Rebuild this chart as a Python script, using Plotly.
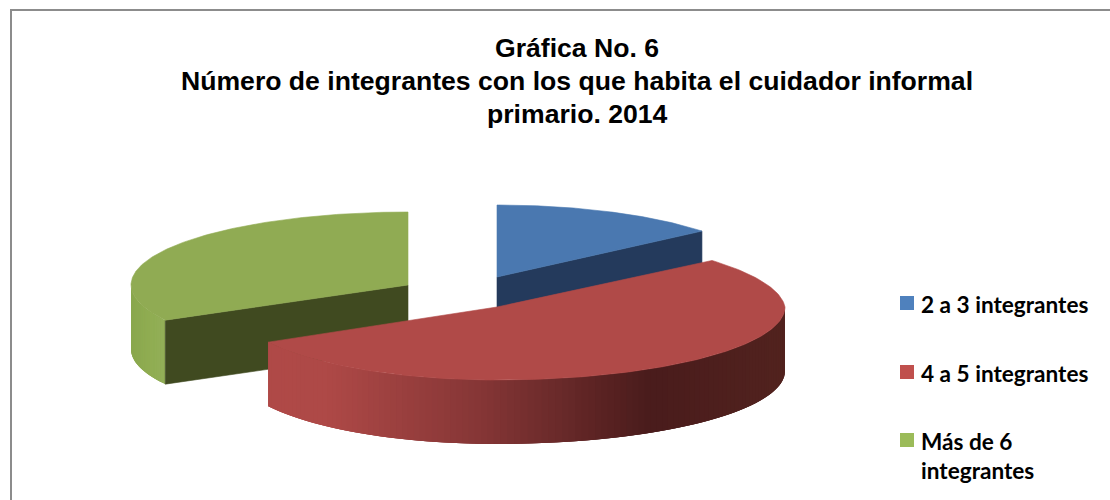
import numpy as np
import plotly.graph_objects as go

# --- data ---
categories = ["2 a 3 integrantes", "4 a 5 integrantes", "Más de 6<br>integrantes"]
values = [14, 53, 33]

title_lines = ["Gráfica No. 6",
               "Número de integrantes con los que habita el cuidador informal",
               "primario. 2014"]

# --- styling / view of the exploded pie (pixels) ---
top_colors = ["#4a78b0", "#b04a48", "#90ab53"]
wall_colors = ["#243a5c", "#4c1e1e", "#404a20"]
swatches = ["#4f81bd", "#c0504d", "#9bbb59"]
views = [
    dict(cx=497, cy=277, rl=266, rr=266, ry=72, back=0),
    dict(cx=497, cy=307, rl=261, rr=288, ry=73, back=14),
    dict(cx=408, cy=285, rl=277, rr=277, ry=73, back=0),
]
DEPTH = 64

total = sum(values)
edges = np.cumsum([0] + values) / total * 2 * np.pi


def rim(view, t):
    t = np.asarray(t, dtype=float)
    u, v = np.sin(t), np.cos(t)
    radius = np.where(u > 0, view["rr"], view["rl"]) - view["back"] * np.maximum(v, 0)
    x = view["cx"] + radius * u
    y = view["cy"] - view["ry"] * v
    return x, y


def hex_rgb(h):
    return np.array([int(h[i:i + 2], 16) for i in (1, 3, 5)], dtype=float)


def ramp(x, stops):
    xs = [s[0] for s in stops]
    cols = np.array([hex_rgb(s[1]) for s in stops])
    c = [np.interp(x, xs, cols[:, i]) for i in range(3)]
    return "rgb(%d,%d,%d)" % tuple(c)


fig = go.Figure()


def poly(xs, ys, color, width=0.6):
    fig.add_trace(go.Scatter(x=list(xs), y=list(ys), mode="lines", fill="toself",
                             fillcolor=color, line=dict(color=color, width=width),
                             hoverinfo="skip", showlegend=False))


def top(i):
    t = np.linspace(edges[i], edges[i + 1], 160)
    x, y = rim(views[i], t)
    v = views[i]
    poly(np.r_[v["cx"], x, v["cx"]], np.r_[v["cy"], y, v["cy"]], top_colors[i])


def wall(i, angle):
    v = views[i]
    x, y = rim(v, [angle])
    poly([v["cx"], x[0], x[0], v["cx"], v["cx"]],
         [v["cy"], y[0], y[0] + DEPTH, v["cy"] + DEPTH, v["cy"]], wall_colors[i])


def side(i, a, b, stops, n=90):
    # each band overlaps the next one so that no seams show through
    ts = np.linspace(a, b, n + 1)
    step = ts[1] - ts[0]
    for t0 in ts[:-1]:
        t1 = min(t0 + 3 * step, b)
        x, y = rim(views[i], np.linspace(t0, t1, 5))
        poly(np.r_[x, x[::-1], x[0]], np.r_[y, y[::-1] + DEPTH, y[0]],
             ramp(x[:2].mean(), stops), width=0)


green_stops = [(131, "#8aa84e"), (150, "#90ad52"), (168, "#94b05a")]
red_stops = [(268, "#b04a48"), (330, "#ae4947"), (483, "#853636"),
             (650, "#4a1c1c"), (785, "#52231f")]

# green slice (back left)
side(2, edges[2], 3 * np.pi / 2, green_stops, 30)
wall(2, edges[2])
top(2)
# blue slice (back right)
wall(0, edges[1])
top(0)
# red slice (front)
side(1, np.pi / 2, edges[2], red_stops, 110)
top(1)

annotations = []
for line, ly in zip(title_lines, [48, 81, 114]):
    annotations.append(dict(text=line, x=577, y=ly, xref="x", yref="y",
                            showarrow=False, align="center", xanchor="center", yanchor="middle",
                            font=dict(family="Liberation Sans", size=26.6, color="#000000",
                                      weight="bold")))
shapes = [dict(type="rect", x0=11, y0=10, x1=1130, y1=520,
               line=dict(color="#8c8c8c", width=2), fillcolor="rgba(0,0,0,0)", layer="below")]

label_y = [303, 372, 440]
for name, color, ly in zip(categories, swatches, label_y):
    shapes.append(dict(type="rect", x0=900, x1=914, y0=ly - 7, y1=ly + 7,
                       fillcolor=color, line=dict(width=0)))
    annotations.append(dict(text=name, x=919, y=ly - 14, xref="x", yref="y", showarrow=False,
                            xanchor="left", yanchor="top", align="left",
                            font=dict(family="Lato", size=22.6, color="#000000", weight="bold")))

fig.update_layout(
    width=1110, height=500, margin=dict(l=0, r=0, t=0, b=0),
    paper_bgcolor="#ffffff", plot_bgcolor="#ffffff", showlegend=False,
    xaxis=dict(range=[0, 1110], visible=False, fixedrange=True),
    yaxis=dict(range=[500, 0], visible=False, fixedrange=True),
    shapes=shapes, annotations=annotations,
)
fig.write_html("out.html", config={"displayModeBar": False},
               post_script="document.body.style.margin='0';")
